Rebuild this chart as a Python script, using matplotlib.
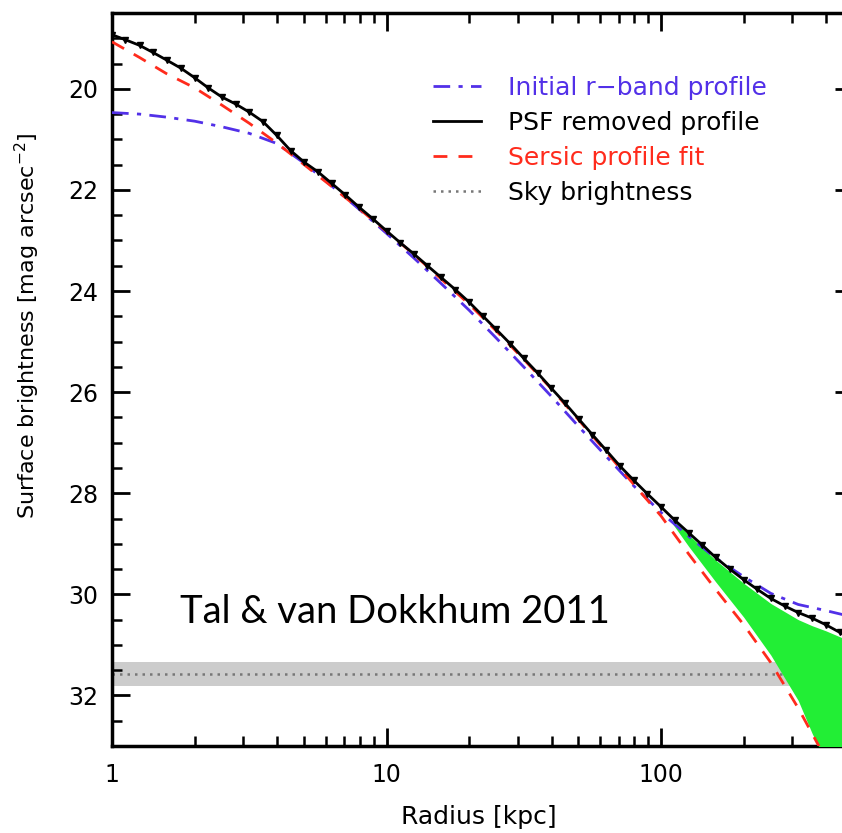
import numpy as np
import matplotlib.pyplot as plt
from matplotlib.ticker import FixedLocator, MultipleLocator, FuncFormatter

# PSF removed profile (black, with markers)
r_psf = [1.00, 1.12, 1.26, 1.41, 1.58, 1.78, 2.00, 2.24, 2.51, 2.82, 3.16, 3.55,
         3.98, 4.47, 5.01, 5.62, 6.31, 7.08, 7.94, 8.91, 10.0, 11.2, 12.6, 14.1,
         15.8, 17.8, 20.0, 22.4, 25.1, 28.2, 31.6, 35.5, 39.8, 44.7, 50.1, 56.2,
         63.1, 70.8, 79.4, 89.1, 100, 112, 126, 141, 158, 178, 200, 224, 251,
         282, 316, 355, 398, 447, 501]
mu_psf = [18.93, 19.03, 19.14, 19.28, 19.43, 19.59, 19.78, 19.98, 20.16, 20.30,
          20.46, 20.65, 20.92, 21.22, 21.45, 21.64, 21.87, 22.10, 22.34, 22.57,
          22.81, 23.04, 23.27, 23.50, 23.73, 23.97, 24.22, 24.49, 24.76, 25.04,
          25.33, 25.62, 25.92, 26.22, 26.53, 26.84, 27.15, 27.46, 27.74, 28.01,
          28.27, 28.53, 28.78, 29.02, 29.27, 29.50, 29.71, 29.90, 30.08, 30.23,
          30.36, 30.47, 30.60, 30.75, 30.88]

# Initial r-band profile (blue dash-dot)
r_init = [1.00, 1.26, 1.58, 2.00, 2.51, 3.16, 3.98, 5.01, 6.31, 7.94, 10.0, 12.6,
          15.8, 20.0, 25.1, 31.6, 39.8, 50.1, 63.1, 79.4, 100, 126, 158, 200,
          251, 316, 398, 501]
mu_init = [20.47, 20.50, 20.56, 20.64, 20.75, 20.88, 21.08, 21.47, 21.92, 22.38,
           22.86, 23.35, 23.85, 24.38, 24.93, 25.50, 26.08, 26.68, 27.27, 27.85,
           28.38, 28.85, 29.28, 29.65, 29.98, 30.20, 30.32, 30.45]

# Sersic fit (red dashed)
r_sersic = [1.00, 1.26, 1.58, 2.00, 2.51, 3.16, 3.98, 5.01, 6.31, 7.94, 10.0,
            12.6, 15.8, 20.0, 25.1, 31.6, 39.8, 50.1, 63.1, 79.4, 100, 126,
            158, 200, 251, 316, 398]
mu_sersic = [19.07, 19.38, 19.70, 19.98, 20.32, 20.68, 21.07, 21.50, 21.93,
             22.37, 22.82, 23.28, 23.76, 24.26, 24.79, 25.35, 25.93, 26.55,
             27.18, 27.82, 28.45, 29.20, 29.90, 30.60, 31.35, 32.25, 33.25]

# uncertainty region (green)
r_err = [110, 126, 158, 200, 251, 316, 355, 398, 501]
mu_err_hi = [28.50, 28.82, 29.32, 29.78, 30.18, 30.50, 30.62, 30.72, 30.95]
mu_err_lo = [28.60, 29.05, 29.75, 30.45, 31.20, 32.10, 32.75, 33.30, 33.50]

sky_mu = 31.57
sky_lo, sky_hi = 31.33, 31.82

blue = '#5230e8'
red = '#ff2b1c'

fig = plt.figure(figsize=(8.42, 8.33), dpi=100)
ax = fig.add_axes([0.133, 0.1044, 0.880, 0.880])
ax.set_xscale('log')

ax.axhspan(sky_lo, sky_hi, color='#cccccc', lw=0, zorder=1)
ax.axhline(sky_mu, color='#777777', ls=(0, (1, 2)), lw=1.8, zorder=2)
ax.fill_between(r_err, mu_err_hi, mu_err_lo, color='#22ee35', lw=0, zorder=3)

ax.plot(r_init, mu_init, color=blue, ls=(0, (6, 3, 1.5, 3)), lw=2, zorder=4)
ax.plot(r_sersic, mu_sersic, color=red, ls=(0, (5, 4)), lw=2, zorder=5)
ax.plot(r_psf, mu_psf, color='black', lw=2, marker='v', ms=4, zorder=6)

ax.set_xlim(1, 500)
ax.set_ylim(33, 18.5)

ax.xaxis.set_major_locator(FixedLocator([1, 10, 100]))
ax.xaxis.set_minor_locator(FixedLocator([m * d for d in (1, 10, 100) for m in range(2, 10)]))
ax.xaxis.set_major_formatter(FuncFormatter(lambda v, p: '%d' % v))
ax.xaxis.set_minor_formatter(FuncFormatter(lambda v, p: ''))
ax.yaxis.set_major_locator(MultipleLocator(2))
ax.yaxis.set_minor_locator(MultipleLocator(0.5))

ax.tick_params(which='both', direction='in', top=True, right=True)
ax.tick_params(which='major', length=13, width=2, labelsize=17)
ax.tick_params(which='minor', length=7, width=1.8)
ax.tick_params(axis='x', which='major', pad=12)
ax.tick_params(axis='y', which='major', pad=10)
for s in ax.spines.values():
    s.set_linewidth(2.5)

ax.set_xlabel('Radius [kpc]', fontsize=18)
ax.set_ylabel('Surface brightness [mag arcsec$^{-2}$]', fontsize=16)
ax.xaxis.set_label_coords(0.495, -0.080)
ax.yaxis.set_label_coords(-0.095, 0.574)

h1, = ax.plot([], [], color=blue, ls=(0, (6, 3, 1.5, 3)), lw=2)
h2, = ax.plot([], [], color='black', lw=2)
h3, = ax.plot([], [], color=red, ls=(0, (5, 4)), lw=2)
h4, = ax.plot([], [], color='#777777', ls=(0, (1, 2)), lw=1.8)
leg = ax.legend([h1, h2, h3, h4],
                ['Initial r\u2212band profile', 'PSF removed profile',
                 'Sersic profile fit', 'Sky brightness'],
                loc='upper left', bbox_to_anchor=(433 / 842, 1 - 76 / 833),
                bbox_transform=fig.transFigure, frameon=False, fontsize=18,
                handlelength=1.9, handletextpad=1.1, labelspacing=0.44,
                borderpad=0, borderaxespad=0)
for t, c in zip(leg.get_texts(), [blue, 'black', red, 'black']):
    t.set_color(c)

fig.text(180 / 842, 1 - 623 / 833, 'Tal & van Dokkhum 2011', fontsize=27.5,
         family=['Lato', 'DejaVu Sans'], ha='left', va='baseline')

fig.savefig('out.png', dpi=100)
